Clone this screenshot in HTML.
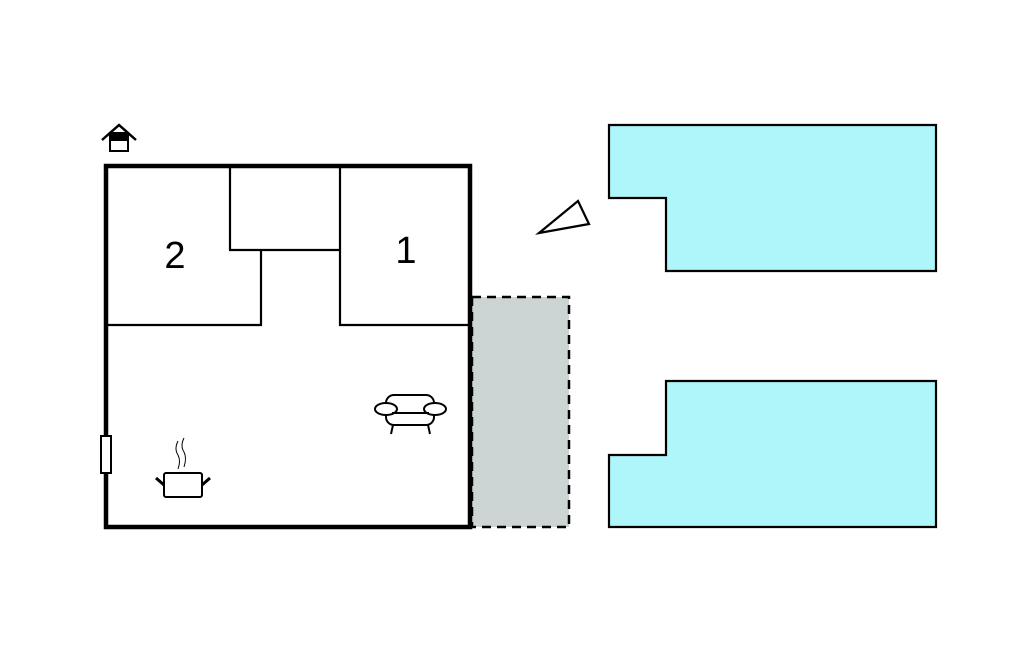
<!DOCTYPE html>
<html><head><style>html,body{margin:0;padding:0;background:#fff}svg{display:block}</style></head><body>
<svg width="1024" height="652" viewBox="0 0 1024 652" xmlns="http://www.w3.org/2000/svg">
<rect x="472" y="297" width="97" height="230" fill="#ccd4d4" stroke="#000" stroke-width="2.5" stroke-dasharray="9,6"/>
<rect x="106" y="166" width="364" height="361" fill="#fff" stroke="#000" stroke-width="4.5"/>
<g stroke="#000" stroke-width="2.2" fill="none">
<polyline points="230,166 230,250 340,250"/>
<polyline points="340,166 340,325 470,325"/>
<polyline points="106,325 261,325 261,250"/>
</g>
<text x="175" y="268" font-family="Liberation Sans, sans-serif" font-size="38" text-anchor="middle">2</text>
<text x="406" y="263" font-family="Liberation Sans, sans-serif" font-size="38" text-anchor="middle">1</text>
<rect x="101" y="436" width="10" height="37" fill="#fff" stroke="#000" stroke-width="2"/>
<!-- house icon -->
<polyline points="102,140 119,125 136,140" fill="none" stroke="#000" stroke-width="2.5"/>
<rect x="110" y="133" width="18" height="18" fill="#fff" stroke="#000" stroke-width="2"/>
<rect x="110" y="133" width="18" height="8" fill="#000"/>
<!-- pot -->
<g stroke="#000" fill="none">
<rect x="164" y="473" width="38" height="24" rx="2" stroke-width="2"/>
<line x1="156" y1="478" x2="164" y2="485" stroke-width="3"/>
<line x1="210" y1="478" x2="202" y2="485" stroke-width="3"/>
<path d="M178,441 q-4,8 0,14 q3,6 0,14" stroke-width="1"/>
<path d="M184,438 q-4,8 0,14 q3,6 0,15" stroke-width="1"/>
</g>
<!-- sofa -->
<g stroke="#000" stroke-width="2" fill="#fff">
<rect x="386" y="395" width="48" height="30" rx="8"/>
<ellipse cx="386" cy="409" rx="11" ry="6"/>
<ellipse cx="435" cy="409" rx="11" ry="6"/>
<line x1="392" y1="413" x2="429" y2="413"/>
<line x1="393" y1="425" x2="391" y2="434"/>
<line x1="428" y1="425" x2="430" y2="434"/>
</g>
<polygon points="539,233 578,201 589,224" fill="#fff" stroke="#000" stroke-width="2.2"/>
<polygon points="609,125 936,125 936,271 666,271 666,198 609,198" fill="#aff6fa" stroke="#000" stroke-width="2.2"/>
<polygon points="666,381 936,381 936,527 609,527 609,455 666,455" fill="#aff6fa" stroke="#000" stroke-width="2.2"/>
</svg>
</body></html>
